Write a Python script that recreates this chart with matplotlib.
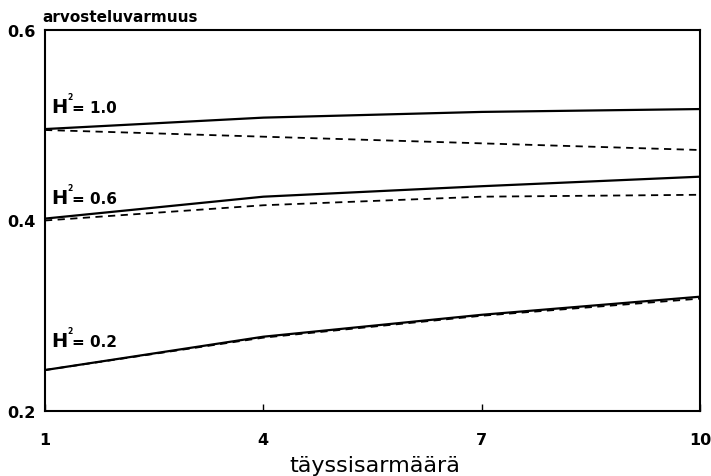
import matplotlib
matplotlib.use("Agg")
import matplotlib.pyplot as plt

# sibling count on x, reliability on y
siblings = [1, 4, 7, 10]

h10_solid = [0.496, 0.508, 0.514, 0.517]
h10_dashed = [0.495, 0.488, 0.481, 0.474]
h06_solid = [0.402, 0.425, 0.436, 0.446]
h06_dashed = [0.400, 0.416, 0.425, 0.427]
h02_solid = [0.243, 0.278, 0.301, 0.320]
h02_dashed = [0.243, 0.277, 0.300, 0.318]

heritabilities = ["1.0", "0.6", "0.2"]
label_y = [0.514, 0.418, 0.268]

x_ticks = [1, 4, 7, 10]
y_ticks = [0.2, 0.4, 0.6]

plt.rcParams['font.family'] = ['DejaVu Sans']

fig = plt.figure(figsize=(7.11, 4.77), dpi=100)
ax = fig.add_axes([45 / 711, 1 - 412 / 477, 655 / 711, 381 / 477])

for solid, dashed in [(h10_solid, h10_dashed), (h06_solid, h06_dashed), (h02_solid, h02_dashed)]:
    ax.plot(siblings, solid, color="black", lw=1.6, solid_capstyle="butt")
    ax.plot(siblings, dashed, color="black", lw=1.3, dashes=(4, 3))

# "H² = value" labels next to each curve pair
for h, yv in zip(heritabilities, label_y):
    ax.text(1.09, yv, "H", fontsize=14, fontweight="semibold", ha="left", va="baseline")
    ax.annotate("2", xy=(1.09, yv), xytext=(11.5, 9.5), textcoords="offset points",
                fontsize=5.5, fontweight="bold", va="baseline")
    ax.annotate("= " + h, xy=(1.09, yv), xytext=(15, 0), textcoords="offset points",
                fontsize=11, fontweight="bold", va="baseline")

ax.set_xlim(1, 10)
ax.set_ylim(0.2, 0.6)
ax.set_xticks(x_ticks)
ax.set_xticklabels([str(t) for t in x_ticks], fontsize=11.5, fontweight="bold")
ax.set_yticks(y_ticks)
ax.set_yticklabels([f"{t:.1f}" for t in y_ticks], fontsize=11.5, fontweight="bold")
ax.tick_params(axis="x", direction="in", length=5, width=1, pad=15)
ax.tick_params(axis="y", length=0, pad=7)
for s in ax.spines.values():
    s.set_linewidth(1.5)

fig.text(42 / 711, 1 - 22 / 477, "arvosteluvarmuus", fontsize=11, fontweight="bold",
         ha="left", va="baseline")
fig.text(375 / 711, 1 - 472 / 477, "täyssisarmäärä", fontsize=16, fontweight="medium",
         ha="center", va="baseline")

fig.savefig("out.png", dpi=100)
